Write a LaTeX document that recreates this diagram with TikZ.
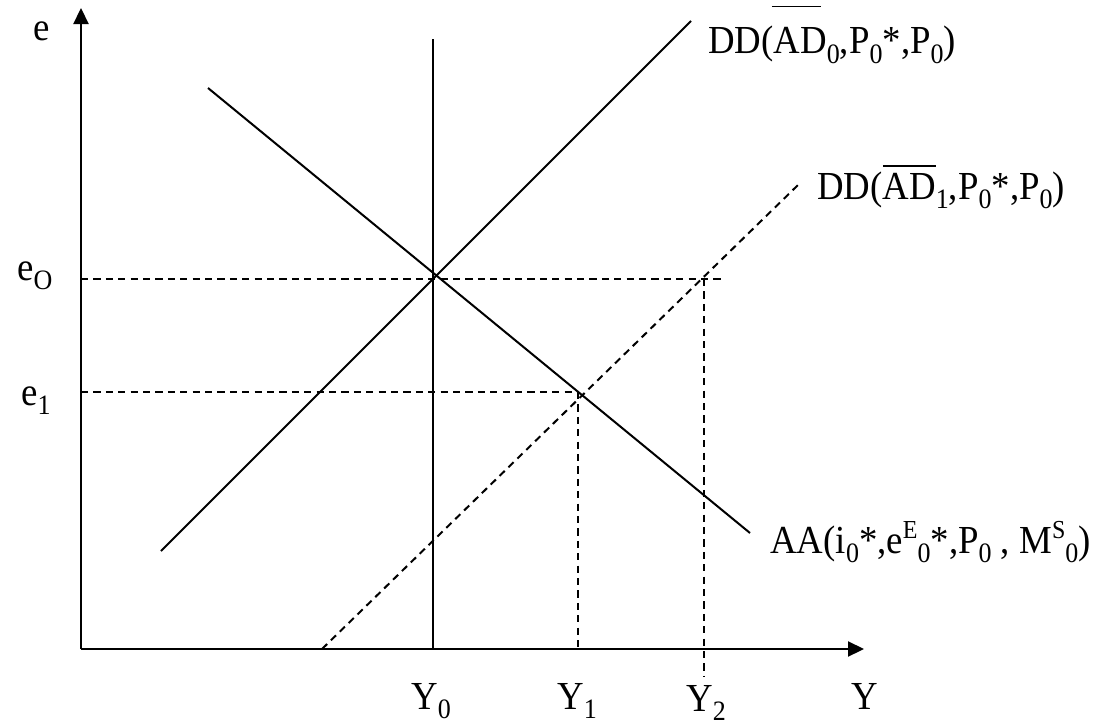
\documentclass[tikz,border=0pt]{standalone}
\usepackage{fontspec}
\setmainfont{Liberation Serif}
\usetikzlibrary{arrows.meta}
\newcommand{\sbs}[1]{\raisebox{-4.6pt}{\fontsize{13pt}{14pt}\selectfont #1}}
\newcommand{\sps}[1]{\raisebox{6.6pt}{\fontsize{12pt}{13pt}\selectfont #1}}
\newcommand{\ovlA}[1]{\leavevmode\rlap{\hspace{-1pt}\raisebox{21.6pt}{\rule{24.5pt}{0.85pt}}}#1}
\newcommand{\ovlB}[1]{\leavevmode\setbox0\hbox{#1}\rlap{\raisebox{14.8pt}{\rule{\wd0}{0.85pt}}}\box0}
\tikzset{
  axis/.style={line width=1.1pt, -{Triangle[length=8pt,width=7.5pt]}},
  curve/.style={line width=1pt},
  guide/.style={line width=1pt, dash pattern=on 3.6pt off 2.6pt},
  lbl/.style={inner sep=0pt, yscale=1.08, font=\fontsize{18.4pt}{21pt}\selectfont}
}
\begin{document}
\begin{tikzpicture}[x=0.5pt,y=-0.5pt]
\useasboundingbox (0,0) rectangle (1093,728);
% axes
\coordinate (O) at (81,649);
\coordinate (ytop) at (81,8);
\coordinate (xend) at (864,649);
\draw[axis] (O) -- (ytop);
\draw[axis] (O) -- (xend);
% curves
\coordinate (y0top) at (433,39);
\coordinate (y0bot) at (433,649);
\draw[curve] (y0top) -- (y0bot);
\coordinate (dd0a) at (161,551);
\coordinate (dd0b) at (691,21);
\draw[curve] (dd0a) -- (dd0b);
\coordinate (aaa) at (208,88);
\coordinate (aab) at (750,533);
\draw[curve] (aaa) -- (aab);
\coordinate (dd1a) at (322,649);
\coordinate (dd1b) at (798,185);
\draw[guide] (dd1a) -- (dd1b);
% guides
\coordinate (e0l) at (81,279);
\coordinate (e0r) at (722,279);
\coordinate (e1l) at (81,392);
\coordinate (E1) at (578,392);
\coordinate (Y1b) at (578,649);
\coordinate (Y2t) at (704,279);
\coordinate (Y2b) at (704,676);
\draw[guide] (e0l) -- (e0r);
\draw[guide] (e1l) -- (E1);
\draw[guide] (E1) -- (Y1b);
\draw[guide] (Y2t) -- (Y2b);
% labels
\node[lbl, anchor=base west] (le) at (33,40) {e};
\node[lbl, anchor=base west] (le0) at (17,280) {e\sbs{O}};
\node[lbl, anchor=base west] (le1) at (21,405) {e\sbs{1}};
\node[lbl, anchor=base west] (lY0) at (411,709) {Y\sbs{0}};
\node[lbl, anchor=base west] (lY1) at (557,709) {Y\sbs{1}};
\node[lbl, anchor=base west] (lY2) at (686,711) {Y\sbs{2}};
\node[lbl, anchor=base west] (lY) at (851,709) {Y};
\node[lbl, anchor=base west] (ldd0) at (708,54) {DD(\ovlA{AD}\sbs{0},P\sbs{0}*,P\sbs{0})};
\node[lbl, anchor=base west] (ldd1) at (817,199) {DD(\ovlB{AD}\sbs{1},P\sbs{0}*,P\sbs{0})};
\node[lbl, anchor=base west] (laa) at (770,553) {AA(i\sbs{0}*,e\sps{E}\sbs{0}*,P\sbs{0} , M\sps{S}\sbs{0})};
\end{tikzpicture}
\end{document}
